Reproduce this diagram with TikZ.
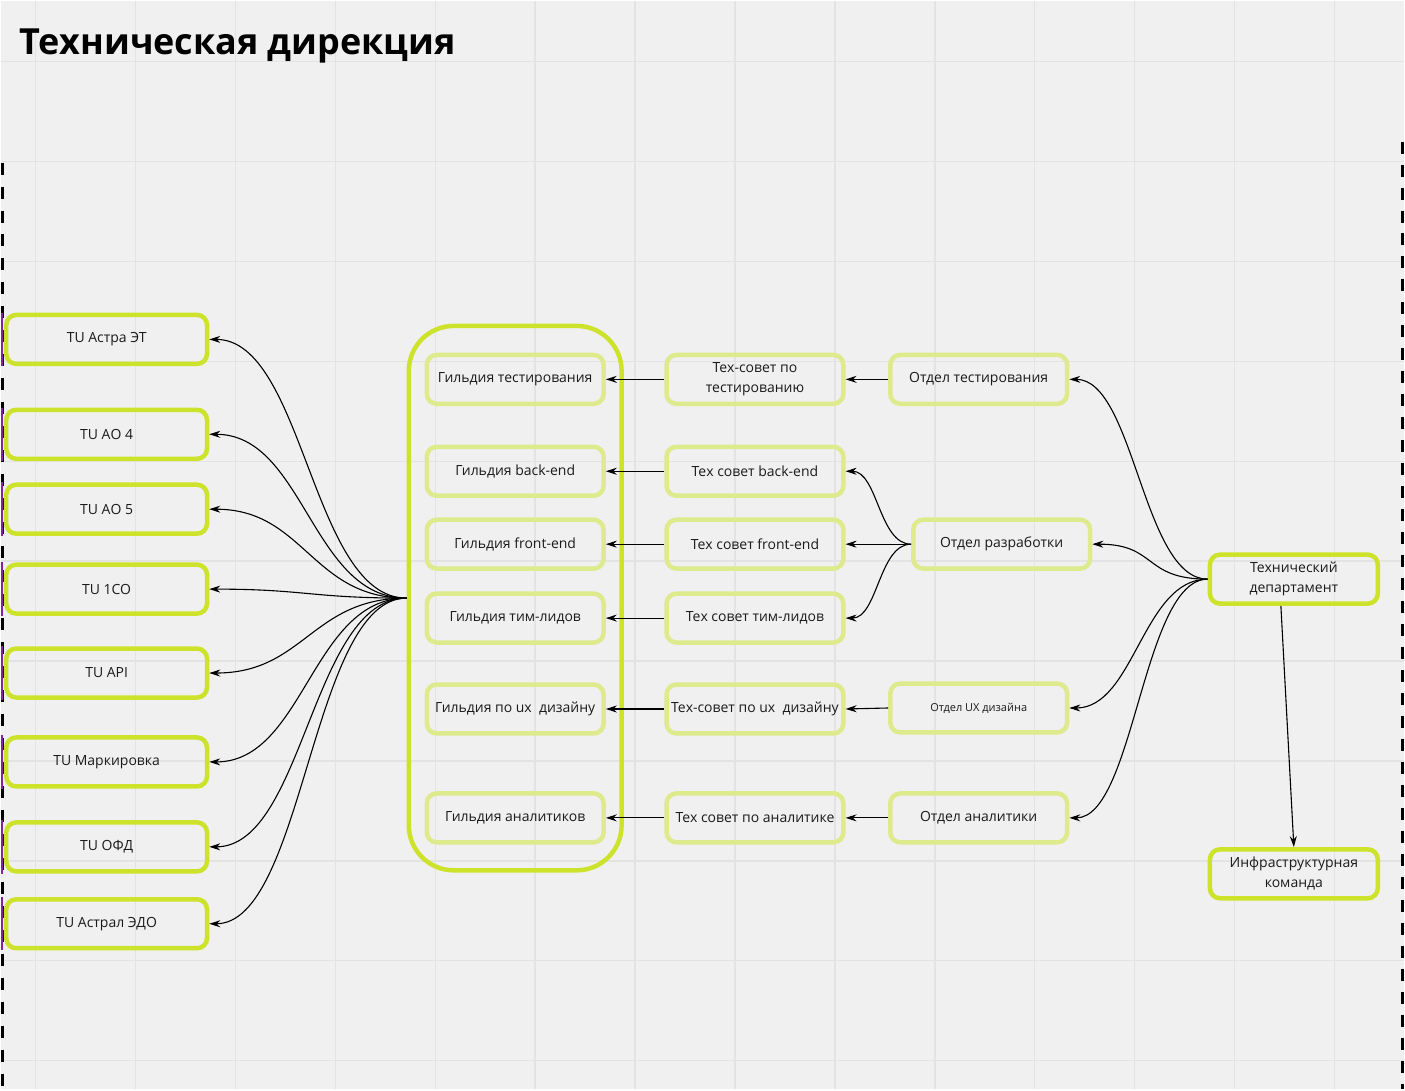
\documentclass[tikz,border=0pt]{standalone}
\usepackage{fontspec}
\setmainfont{Open Sans}
\usetikzlibrary{arrows.meta}
\definecolor{bg}{HTML}{F0F0F0}
\definecolor{gridc}{HTML}{E3E3E3}
\definecolor{limeb}{HTML}{CDE32B}
\definecolor{limel}{HTML}{DDEB8C}
\definecolor{txt}{HTML}{1A1A1A}
\definecolor{purp}{HTML}{8A1FA0}
\begin{document}
\begin{tikzpicture}[x=1pt,y=-1pt,
  tubox/.style={draw=limeb, line width=4.5pt, rounded corners=10pt, minimum width=201pt, minimum height=49pt, inner sep=2pt, align=center, text=txt, font=\fontsize{14}{20}\selectfont},
  midbox/.style={tubox, draw=limel, minimum width=177pt},
  topbox/.style={tubox, minimum width=168pt},
  grpbox/.style={draw=limeb, line width=4.5pt, rounded corners=45pt, minimum width=213pt, minimum height=545pt},
  arr/.style={draw=black, line width=1.1pt, -{Stealth[length=11pt,width=7pt]}},
  gridl/.style={draw=gridc, line width=1.5pt},
  dashl/.style={draw=black, line width=3pt, dash pattern=on 12pt off 12pt}
]
% background and grid
\path[fill=bg] (0,0) rectangle (1405,1089);
\foreach \gx in {35,135,...,1335} \draw[gridl] (\gx,0) -- (\gx,1089);
\foreach \gy in {61,161,...,1061} \draw[gridl] (0,\gy) -- (1405,\gy);
% frame dashes
\draw[dashl] (2,162) -- (2,1089);
\draw[dashl, dash pattern=on 12pt off 11pt] (1403.5,141) -- (1403.5,1089);

% title
\node[anchor=base west, inner sep=0pt, font=\fontsize{36}{42}\selectfont\bfseries, text=black] (title) at (19,54) {Техническая дирекция};

% left TU boxes
\node[tubox] (tu1) at (106,339) {TU Астра ЭТ};
\node[tubox] (tu2) at (106,434) {TU АО 4};
\node[tubox] (tu3) at (106,509) {TU АО 5};
\node[tubox] (tu4) at (106,589) {TU 1СО};
\node[tubox] (tu5) at (106,673) {TU API};
\node[tubox] (tu6) at (106,762) {TU Маркировка};
\node[tubox] (tu7) at (106,847) {TU ОФД};
\node[tubox] (tu8) at (106,924) {TU Астрал ЭДО};
\foreach \t in {tu1,tu2,tu3,tu4,tu5,tu6,tu7,tu8}
  \draw[purp, line width=2pt] (1,0 |- \t.north) -- (1,0 |- \t.south);

% guild group
\node[grpbox] (grp) at (515,598) {};
\node[midbox] (g1) at (515,379) {Гильдия тестирования};
\node[midbox] (g2) at (515,471) {Гильдия back-end};
\node[midbox] (g3) at (515,544) {Гильдия front-end};
\node[midbox] (g4) at (515,618) {Гильдия тим-лидов};
\node[midbox] (g5) at (515,709) {Гильдия по ux\ \ дизайну};
\node[midbox] (g6) at (515,818) {Гильдия аналитиков};

% tech councils
\node[midbox] (c1) at (755,379) {Тех-совет по\\тестированию};
\node[midbox] (c2) at (755,471) {Тех совет back-end};
\node[midbox] (c3) at (755,544) {Тех совет front-end};
\node[midbox] (c4) at (755,618) {Тех совет тим-лидов};
\node[midbox] (c5) at (755,709) {Тех-совет по ux\ \ дизайну};
\node[midbox] (c6) at (755,818) {Тех совет по аналитике};

% departments
\node[midbox] (d1) at (979,379) {Отдел тестирования};
\node[midbox] (d2) at (1002,544) {Отдел разработки};
\node[midbox, font=\fontsize{11}{14}\selectfont] (d3) at (979,708) {Отдел UX дизайна};
\node[midbox] (d4) at (979,818) {Отдел аналитики};

% top
\node[topbox] (td) at (1294.5,579) {Технический\\департамент};
\node[topbox] (inf) at (1294.5,874) {Инфраструктурная\\команда};

% hub -> TU
\foreach \t in {tu1,tu2,tu3,tu4,tu5,tu6,tu7,tu8}
  \draw[arr] (grp.west) .. controls +(-95,0) and +(95,0) .. (\t.east);

% councils -> guilds
\foreach \c/\g in {c1/g1,c2/g2,c3/g3,c4/g4,c5/g5,c6/g6}
  \draw[arr] (\c.west) -- (\g.east);

% departments -> councils
\draw[arr] (d1.west) -- (c1.east);
\draw[arr] (d3.west) -- (c5.east);
\draw[arr] (d4.west) -- (c6.east);
\foreach \c in {c2,c3,c4}
  \draw[arr] (d2.west) .. controls +(-32,0) and +(32,0) .. (\c.east);

% TD -> departments
\foreach \d in {d1,d2,d3,d4}
  \draw[arr] (td.west) .. controls +(-65,0) and +(65,0) .. (\d.east);

% TD -> infrastructure
\draw[arr] ([xshift=-13pt]td.south) -- (inf.north);
\end{tikzpicture}
\end{document}
